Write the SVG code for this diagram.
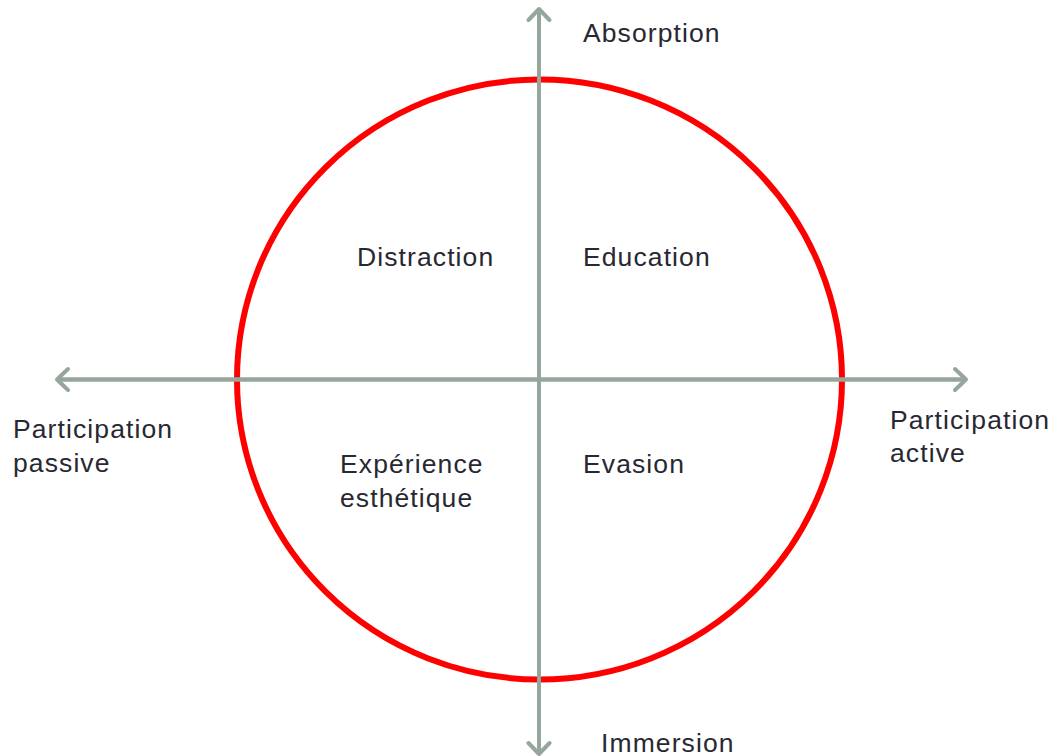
<svg xmlns="http://www.w3.org/2000/svg" width="1050" height="756" viewBox="0 0 1050 756">
  <style>
    .lbl { font-family: "Liberation Sans", Arial, sans-serif; font-size: 26.5px; fill: #282832; letter-spacing: 1.1px; }
    .axis { stroke: #97a69c; stroke-width: 4; fill: none; }
  </style>
  <defs>
    <marker id="chev" markerUnits="userSpaceOnUse" markerWidth="30" markerHeight="30" viewBox="-15 -15 30 30" refX="0" refY="0" orient="auto">
      <path d="M-11,-10.5 L0,0 L-11,10.5" fill="none" stroke="#97a69c" stroke-width="4" stroke-linecap="round" stroke-linejoin="round"/>
    </marker>
  </defs>
  <rect width="1050" height="756" fill="#ffffff"/>
  <g id="circle">
    <ellipse cx="539.5" cy="379.5" rx="302.5" ry="300" fill="none" stroke="#ff0000" stroke-width="6"/>
  </g>
  <g id="connectors">
    <line class="axis" x1="539" y1="755" x2="539" y2="9" marker-end="url(#chev)"/>
    <line class="axis" x1="539" y1="9" x2="539" y2="754" marker-end="url(#chev)"/>
    <line class="axis" x1="57" y1="379.5" x2="966" y2="379.5" marker-end="url(#chev)"/>
    <line class="axis" x1="966" y1="379.5" x2="57" y2="379.5" marker-end="url(#chev)"/>
  </g>
  <g id="absorption"><text class="lbl" x="583" y="42">Absorption</text></g>
  <g id="immersion"><text class="lbl" x="601" y="752">Immersion</text></g>
  <g id="participation-passive"><text class="lbl" x="13" y="438">Participation</text><text class="lbl" x="13" y="472">passive</text></g>
  <g id="participation-active"><text class="lbl" x="890" y="429">Participation</text><text class="lbl" x="890" y="462">active</text></g>
  <g id="distraction"><text class="lbl" x="357" y="266">Distraction</text></g>
  <g id="education"><text class="lbl" x="583" y="266">Education</text></g>
  <g id="experience"><text class="lbl" x="340" y="473">Expérience</text><text class="lbl" x="340" y="507">esthétique</text></g>
  <g id="evasion"><text class="lbl" x="583" y="473">Evasion</text></g>
</svg>
